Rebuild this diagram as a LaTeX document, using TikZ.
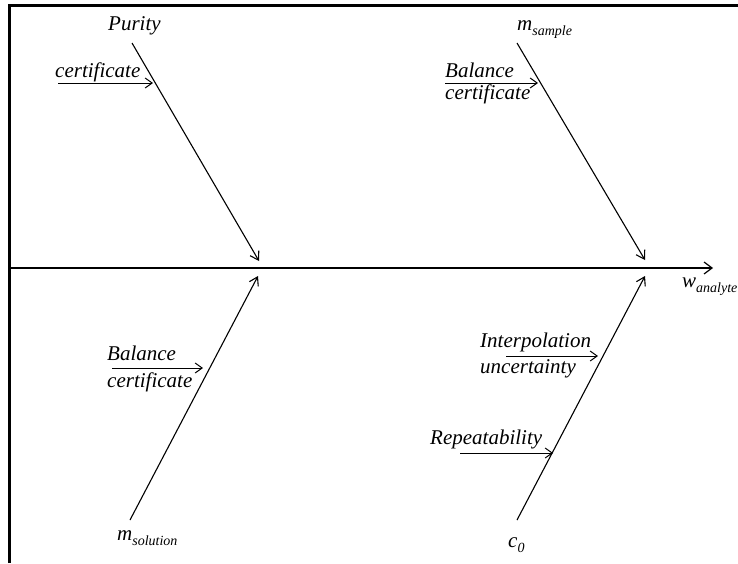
\documentclass[tikz,border=0pt]{standalone}
\usepackage{fontspec}
\setmainfont{Liberation Serif}
\usetikzlibrary{arrows.meta}
\newcommand{\subtxt}[1]{\raisebox{-0.28em}{\fontsize{14}{14}\selectfont #1}}
\begin{document}
\begin{tikzpicture}[x=1pt,y=-1pt,
  lbl/.style={inner sep=0pt,anchor=base west,font=\fontsize{21}{24}\selectfont\itshape},
  axisline/.style={line width=1.5pt,-{Straight Barb[length=8pt,width=12pt,line width=1.2pt]}},
  branch/.style={line width=1.1pt,-{Straight Barb[length=8pt,width=10pt,line width=1.1pt]}},
  cause/.style={line width=1pt,-{Straight Barb[length=7pt,width=10pt,line width=1pt]}},
  frameline/.style={line width=3pt}]
\useasboundingbox (0,0) rectangle (738,563);
% frame
\coordinate (fbl) at (9,563);
\coordinate (ftl) at (9,5);
\coordinate (ftr) at (738,5);
\draw[frameline] (fbl) -- (ftl) -- (ftr);
% main axis
\coordinate (axs) at (9,268);
\coordinate (axe) at (713,268);
\draw[axisline] (axs) -- (axe);
\node[lbl] (w) at (682,287) {w\subtxt{analyte}};
% upper-left branch
\coordinate (ul0) at (132,43);
\coordinate (ul1) at (259,261);
\draw[branch] (ul0) -- (ul1);
\node[lbl] (purity) at (108,30) {Purity};
\node[lbl] (cert1) at (55,77) {certificate};
\coordinate (c1s) at (58,83);
\coordinate (c1e) at (153,83);
\draw[cause] (c1s) -- (c1e);
% upper-right branch
\coordinate (ur0) at (517,43);
\coordinate (ur1) at (645,260);
\draw[branch] (ur0) -- (ur1);
\node[lbl] (msample) at (517,30) {m\subtxt{sample}};
\node[lbl] (bal2) at (445,77) {Balance};
\node[lbl] (cert2) at (445,99) {certificate};
\coordinate (c2s) at (445,83);
\coordinate (c2e) at (538,83);
\draw[cause] (c2s) -- (c2e);
% lower-left branch
\coordinate (ll0) at (130,520);
\coordinate (ll1) at (258,276);
\draw[branch] (ll0) -- (ll1);
\node[lbl] (msol) at (117,540) {m\subtxt{solution}};
\node[lbl] (bal3) at (107,360) {Balance};
\node[lbl] (cert3) at (107,387) {certificate};
\coordinate (c3s) at (112,368);
\coordinate (c3e) at (203,368);
\draw[cause] (c3s) -- (c3e);
% lower-right branch
\coordinate (lr0) at (517,520);
\coordinate (lr1) at (645,276);
\draw[branch] (lr0) -- (lr1);
\node[lbl] (c0) at (508,547) {c\subtxt{0}};
\node[lbl] (interp) at (480,347) {Interpolation};
\node[lbl] (uncert) at (480,373) {uncertainty};
\coordinate (c4s) at (506,356);
\coordinate (c4e) at (598,356);
\draw[cause] (c4s) -- (c4e);
\node[lbl] (rep) at (430,444) {Repeatability};
\coordinate (c5s) at (460,453);
\coordinate (c5e) at (553,453);
\draw[cause] (c5s) -- (c5e);
\end{tikzpicture}
\end{document}
